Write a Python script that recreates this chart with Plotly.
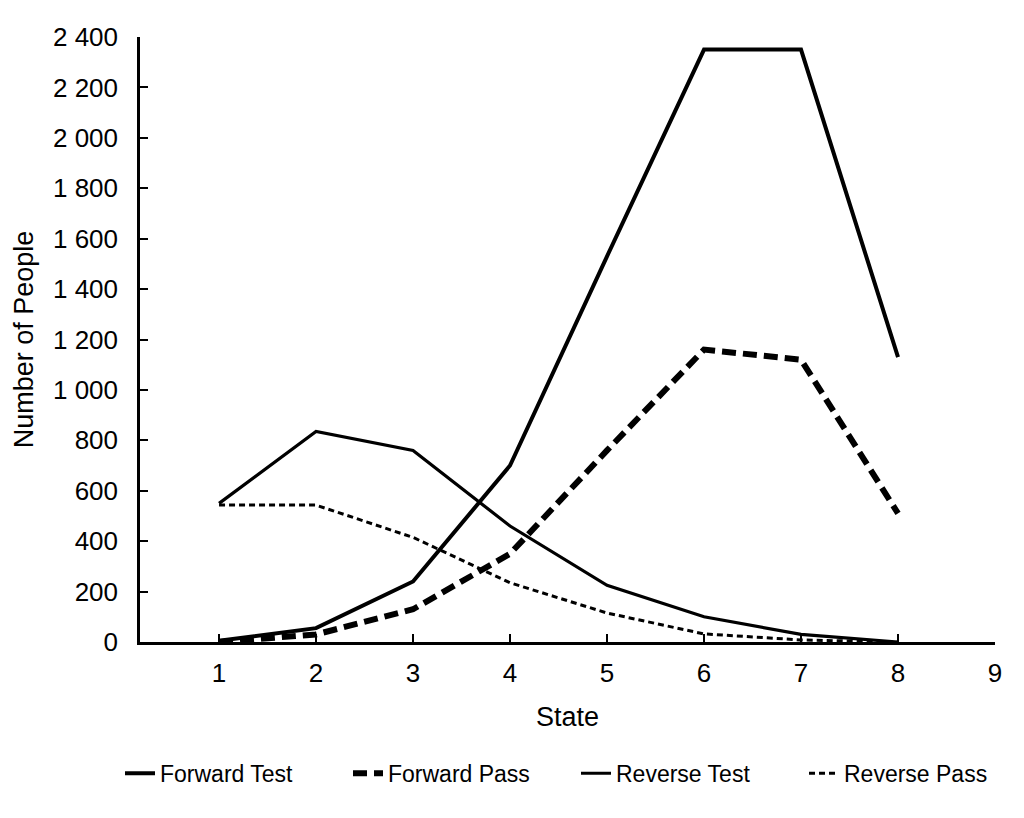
import plotly.graph_objects as go

states = [1, 2, 3, 4, 5, 6, 7, 8]
forward_test = [5, 55, 240, 700, 1530, 2350, 2350, 1130]
forward_pass = [0, 30, 130, 350, 760, 1160, 1120, 510]
reverse_test = [550, 835, 760, 460, 225, 100, 30, 0]
reverse_pass = [543, 543, 415, 235, 115, 32, 8, 0]
x_ticks = [1, 2, 3, 4, 5, 6, 7, 8, 9]
y_ticks = list(range(0, 2401, 200))

FONT = "Liberation Sans, Arial, sans-serif"

fig = go.Figure()
fig.add_trace(go.Scatter(x=states, y=forward_test, mode="lines", name="Forward Test",
                         line=dict(color="#000", width=4)))
fig.add_trace(go.Scatter(x=states, y=forward_pass, mode="lines", name="Forward Pass",
                         line=dict(color="#000", width=6, dash="14px,7px")))
fig.add_trace(go.Scatter(x=states, y=reverse_test, mode="lines", name="Reverse Test",
                         line=dict(color="#000", width=3.2)))
fig.add_trace(go.Scatter(x=states, y=reverse_pass, mode="lines", name="Reverse Pass",
                         line=dict(color="#000", width=3, dash="6px,4px")))

fig.update_layout(
    width=1024, height=818,
    margin=dict(l=132, r=37, t=29, b=184),
    paper_bgcolor="white", plot_bgcolor="white",
    separators=". ",
    font=dict(family=FONT, color="#000", size=22),
    showlegend=True,
    legend=dict(orientation="h", x=-0.008, xanchor="left", y=-0.217, yanchor="middle",
                font=dict(size=23), entrywidth=183, entrywidthmode="pixels",
                traceorder="normal"),
    xaxis=dict(range=[0.185, 9], tickmode="array", tickvals=x_ticks,
               showline=True, linecolor="#000", linewidth=2.5, showgrid=False, zeroline=False,
               ticks="inside", ticklen=8, tickwidth=2, tickcolor="#000",
               ticklabelstandoff=6,
               tickfont=dict(size=26), title=dict(text="State", font=dict(size=27), standoff=21)),
    yaxis=dict(range=[0, 2400], tickmode="array", tickvals=y_ticks, tickformat=",d",
               showline=True, linecolor="#000", linewidth=2.5, showgrid=False, zeroline=False,
               ticks="inside", ticklen=8, tickwidth=2, tickcolor="#000",
               ticklabelstandoff=14,
               tickfont=dict(size=26), title=dict(text="Number of People", font=dict(size=27), standoff=12)),
)

fig.write_html("out.html")
